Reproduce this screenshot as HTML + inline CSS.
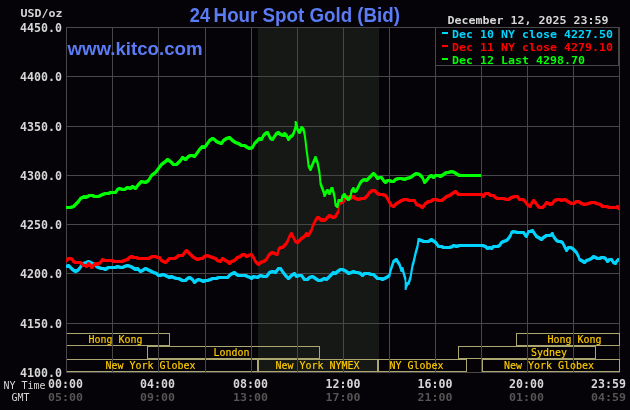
<!DOCTYPE html><html><head><meta charset="utf-8"><title>24 Hour Spot Gold</title><style>
html,body{margin:0;padding:0;background:#050307;}
body{width:630px;height:410px;overflow:hidden;position:relative;}
svg{position:absolute;left:0;top:0;display:block}
.m{font-family:"Liberation Mono",monospace;}
.d{font-family:"DejaVu Sans Mono",monospace;}
.b{font-weight:bold;}
.s{font-family:"Liberation Sans",Arial,sans-serif;font-weight:bold;fill:#5b7cf4}
</style></head><body>
<svg width="630" height="410" viewBox="0 0 630 410">
<rect x="0" y="0" width="630" height="410" fill="#050307"/>
<rect x="258" y="28" width="121" height="344" fill="#161816"/>
<path d="M66.5 27V373 M112.5 27V373 M158.5 27V373 M205.5 27V373 M251.5 27V373 M297.5 27V373 M343.5 27V373 M389.5 27V373 M435.5 27V373 M481.5 27V373 M527.5 27V373 M573.5 27V373 M619.5 27V373 M66 27.5H620 M66 76.5H620 M66 126.5H620 M66 175.5H620 M66 224.5H620 M66 273.5H620 M66 323.5H620 M66 372.5H620" stroke="#474747" stroke-width="1" fill="none" shape-rendering="crispEdges"/>
<path d="M66.5 333.5H169.5V345.5H66.5Z M516.5 333.5H619.5V345.5H516.5Z M147.5 346.5H319.5V358.5H147.5Z M458.5 346.5H595.5V358.5H458.5Z M66.5 359.5H257.5V371.5H66.5Z M258.5 359.5H377.5V371.5H258.5Z M378.5 359.5H466.5V371.5H378.5Z M482.5 359.5H619.5V371.5H482.5Z" stroke="#aca671" stroke-width="1" fill="none" shape-rendering="crispEdges"/>
<path d="M66.5 333V372 M112.5 333V372 M158.5 333V372 M205.5 333V372 M251.5 333V372 M297.5 333V372 M343.5 333V372 M389.5 333V372 M435.5 333V372 M481.5 333V372 M527.5 333V372 M573.5 333V372" stroke="#474747" stroke-width="1" fill="none" shape-rendering="crispEdges"/>
<defs><clipPath id="pc"><rect x="66" y="20" width="553" height="360"/></clipPath><clipPath id="pg"><rect x="66" y="20" width="415" height="360"/></clipPath></defs>
<g clip-path="url(#pc)">
<path d="M65.65 265.00L67.65 264.00L69.35 264.00L69.35 267.00L67.35 268.00L65.65 268.00ZM67.65 264.00L69.35 264.00L71.35 266.00L71.35 269.00L69.65 269.00L67.65 267.00ZM69.65 266.00L71.35 266.00L73.35 268.00L73.35 271.00L71.65 271.00L69.65 269.00ZM71.65 268.00L73.35 268.00L76.35 270.00L76.35 273.00L74.65 273.00L71.65 271.00ZM74.65 270.00L76.65 269.00L78.35 269.00L78.35 272.00L76.35 273.00L74.65 273.00ZM76.65 269.00L78.65 267.00L80.35 267.00L80.35 270.00L78.35 272.00L76.65 272.00ZM78.65 267.00L80.65 264.00L82.35 264.00L82.35 267.00L80.35 270.00L78.65 270.00ZM80.65 264.00L82.65 262.00L84.35 262.00L84.35 265.00L82.35 267.00L80.65 267.00ZM82.65 262.00L85.65 261.00L87.35 261.00L87.35 264.00L84.35 265.00L82.65 265.00ZM85.65 261.00L87.65 260.00L89.35 260.00L89.35 263.00L87.35 264.00L85.65 264.00ZM87.65 260.00L89.35 260.00L91.35 261.00L91.35 264.00L89.65 264.00L87.65 263.00ZM89.65 261.00L91.35 261.00L93.35 262.00L93.35 265.00L91.65 265.00L89.65 264.00ZM91.65 262.00L93.35 262.00L96.35 263.00L96.35 266.00L94.65 266.00L91.65 265.00ZM94.65 263.00L96.35 263.00L97.35 265.00L97.35 268.00L95.65 268.00L94.65 266.00ZM95.65 265.00L97.35 265.00L99.35 266.00L99.35 269.00L97.65 269.00L95.65 268.00ZM97.65 266.00L99.35 266.00L102.35 267.00L102.35 270.00L100.65 270.00L97.65 269.00ZM100.65 267.00L104.35 267.00L104.35 270.00L100.65 270.00ZM102.65 267.00L104.35 267.00L106.35 268.00L106.35 271.00L104.65 271.00L102.65 270.00ZM104.65 268.00L105.65 267.00L107.35 267.00L107.35 270.00L106.35 271.00L104.65 271.00ZM105.65 267.00L107.65 266.00L109.35 266.00L109.35 269.00L107.35 270.00L105.65 270.00ZM107.65 266.00L112.35 266.00L112.35 269.00L107.65 269.00ZM110.65 266.00L114.35 266.00L114.35 269.00L110.65 269.00ZM112.65 266.00L116.35 266.00L116.35 269.00L112.65 269.00ZM114.65 266.00L116.65 265.00L118.35 265.00L118.35 268.00L116.35 269.00L114.65 269.00ZM116.65 265.00L118.35 265.00L121.35 266.00L121.35 269.00L119.65 269.00L116.65 268.00ZM119.65 266.00L123.35 266.00L123.35 269.00L119.65 269.00ZM121.65 266.00L123.65 265.00L125.35 265.00L125.35 268.00L123.35 269.00L121.65 269.00ZM123.65 265.00L126.65 264.00L128.35 264.00L128.35 267.00L125.35 268.00L123.65 268.00ZM126.65 264.00L128.35 264.00L131.35 265.00L131.35 268.00L129.65 268.00L126.65 267.00ZM129.65 265.00L131.35 265.00L133.35 266.00L133.35 269.00L131.65 269.00L129.65 268.00ZM131.65 266.00L133.35 266.00L136.35 268.00L136.35 271.00L134.65 271.00L131.65 269.00ZM134.65 268.00L136.65 267.00L138.35 267.00L138.35 270.00L136.35 271.00L134.65 271.00ZM136.65 267.00L138.35 267.00L141.35 270.00L141.35 273.00L139.65 273.00L136.65 270.00ZM139.65 270.00L141.65 269.00L143.35 269.00L143.35 272.00L141.35 273.00L139.65 273.00ZM141.65 269.00L144.65 267.00L146.35 267.00L146.35 270.00L143.35 272.00L141.65 272.00ZM144.65 267.00L146.35 267.00L148.35 268.00L148.35 271.00L146.65 271.00L144.65 270.00ZM146.65 268.00L148.35 268.00L150.35 269.00L150.35 272.00L148.65 272.00L146.65 271.00ZM148.65 269.00L150.35 269.00L152.35 270.00L152.35 273.00L150.65 273.00L148.65 272.00ZM150.65 270.00L152.35 270.00L154.35 271.00L154.35 274.00L152.65 274.00L150.65 273.00ZM152.65 271.00L154.35 271.00L157.35 272.00L157.35 275.00L155.65 275.00L152.65 274.00ZM155.65 272.00L157.35 272.00L159.35 274.00L159.35 277.00L157.65 277.00L155.65 275.00ZM157.65 274.00L161.35 274.00L161.35 277.00L157.65 277.00ZM159.65 274.00L161.65 273.00L163.35 273.00L163.35 276.00L161.35 277.00L159.65 277.00ZM161.65 273.00L163.35 273.00L166.35 274.00L166.35 277.00L164.65 277.00L161.65 276.00ZM164.65 274.00L166.35 274.00L168.35 275.00L168.35 278.00L166.65 278.00L164.65 277.00ZM166.65 275.00L168.35 275.00L170.35 276.00L170.35 279.00L168.65 279.00L166.65 278.00ZM168.65 276.00L170.65 275.00L172.35 275.00L172.35 278.00L170.35 279.00L168.65 279.00ZM170.65 275.00L172.35 275.00L174.35 276.00L174.35 279.00L172.65 279.00L170.65 278.00ZM172.65 276.00L174.35 276.00L177.35 277.00L177.35 280.00L175.65 280.00L172.65 279.00ZM175.65 277.00L179.35 277.00L179.35 280.00L175.65 280.00ZM177.65 277.00L179.35 277.00L181.35 278.00L181.35 281.00L179.65 281.00L177.65 280.00ZM179.65 278.00L181.35 278.00L183.35 279.00L183.35 282.00L181.65 282.00L179.65 281.00ZM181.65 279.00L186.35 279.00L186.35 282.00L181.65 282.00ZM184.65 279.00L186.65 277.00L188.35 277.00L188.35 280.00L186.35 282.00L184.65 282.00ZM186.65 277.00L188.65 276.00L190.35 276.00L190.35 279.00L188.35 280.00L186.65 280.00ZM188.65 276.00L190.35 276.00L193.35 278.00L193.35 281.00L191.65 281.00L188.65 279.00ZM191.65 278.00L193.35 278.00L195.35 281.00L195.35 284.00L193.65 284.00L191.65 281.00ZM193.65 281.00L195.65 279.00L197.35 279.00L197.35 282.00L195.35 284.00L193.65 284.00ZM195.65 279.00L197.65 278.00L199.35 278.00L199.35 281.00L197.35 282.00L195.65 282.00ZM197.65 278.00L199.35 278.00L202.35 279.00L202.35 282.00L200.65 282.00L197.65 281.00ZM200.65 279.00L202.35 279.00L204.35 280.00L204.35 283.00L202.65 283.00L200.65 282.00ZM202.65 280.00L204.65 279.00L206.35 279.00L206.35 282.00L204.35 283.00L202.65 283.00ZM204.65 279.00L208.35 279.00L208.35 282.00L204.65 282.00ZM206.65 279.00L209.65 278.00L211.35 278.00L211.35 281.00L208.35 282.00L206.65 282.00ZM209.65 278.00L211.65 277.00L213.35 277.00L213.35 280.00L211.35 281.00L209.65 281.00ZM211.65 277.00L215.35 277.00L215.35 280.00L211.65 280.00ZM213.65 277.00L217.35 277.00L217.35 280.00L213.65 280.00ZM215.65 277.00L217.65 276.00L219.35 276.00L219.35 279.00L217.35 280.00L215.65 280.00ZM217.65 276.00L222.35 276.00L222.35 279.00L217.65 279.00ZM220.65 276.00L224.35 276.00L224.35 279.00L220.65 279.00ZM222.65 276.00L226.35 276.00L226.35 279.00L222.65 279.00ZM224.65 276.00L228.35 276.00L228.35 279.00L224.65 279.00ZM226.65 276.00L229.65 273.00L231.35 273.00L231.35 276.00L228.35 279.00L226.65 279.00ZM229.65 273.00L231.65 272.00L233.35 272.00L233.35 275.00L231.35 276.00L229.65 276.00ZM231.65 272.00L233.65 271.00L235.35 271.00L235.35 274.00L233.35 275.00L231.65 275.00ZM233.65 271.00L235.35 271.00L237.35 273.00L237.35 276.00L235.65 276.00L233.65 274.00ZM235.65 273.00L237.35 273.00L239.35 274.00L239.35 277.00L237.65 277.00L235.65 276.00ZM237.65 274.00L242.35 274.00L242.35 277.00L237.65 277.00ZM240.65 274.00L244.35 274.00L244.35 277.00L240.65 277.00ZM242.65 274.00L246.35 274.00L246.35 277.00L242.65 277.00ZM244.65 274.00L246.35 274.00L248.35 275.00L248.35 278.00L246.65 278.00L244.65 277.00ZM246.65 275.00L248.35 275.00L251.35 276.00L251.35 279.00L249.65 279.00L246.65 278.00ZM249.65 276.00L251.35 276.00L252.35 277.00L252.35 280.00L250.65 280.00L249.65 279.00ZM250.65 277.00L252.65 275.00L254.35 275.00L254.35 278.00L252.35 280.00L250.65 280.00ZM252.65 275.00L254.35 275.00L258.35 276.00L258.35 279.00L256.65 279.00L252.65 278.00ZM256.65 276.00L259.65 274.00L261.35 274.00L261.35 277.00L258.35 279.00L256.65 279.00ZM259.65 274.00L261.35 274.00L264.35 275.00L264.35 278.00L262.65 278.00L259.65 277.00ZM262.65 275.00L267.35 275.00L267.35 278.00L262.65 278.00ZM265.65 275.00L268.65 271.00L270.35 271.00L270.35 274.00L267.35 278.00L265.65 278.00ZM268.65 271.00L271.65 270.00L273.35 270.00L273.35 273.00L270.35 274.00L268.65 274.00ZM271.65 270.00L273.35 270.00L276.35 271.00L276.35 274.00L274.65 274.00L271.65 273.00ZM274.65 271.00L277.65 267.00L279.35 267.00L279.35 270.00L276.35 274.00L274.65 274.00ZM277.65 267.00L281.35 267.00L281.35 270.00L277.65 270.00ZM279.65 267.00L281.35 267.00L283.35 270.00L283.35 273.00L281.65 273.00L279.65 270.00ZM281.65 270.00L283.35 270.00L286.35 274.00L286.35 277.00L284.65 277.00L281.65 273.00ZM284.65 274.00L286.35 274.00L289.35 277.00L289.35 280.00L287.65 280.00L284.65 277.00ZM287.65 277.00L290.65 274.00L292.35 274.00L292.35 277.00L289.35 280.00L287.65 280.00ZM290.65 274.00L293.65 272.00L295.35 272.00L295.35 275.00L292.35 277.00L290.65 277.00ZM293.65 272.00L295.35 272.00L297.35 275.00L297.35 278.00L295.65 278.00L293.65 275.00ZM295.65 275.00L297.65 274.00L299.35 274.00L299.35 277.00L297.35 278.00L295.65 278.00ZM297.65 274.00L302.35 274.00L302.35 277.00L297.65 277.00ZM300.65 274.00L302.35 274.00L305.35 278.00L305.35 281.00L303.65 281.00L300.65 277.00ZM303.65 278.00L308.35 278.00L308.35 281.00L303.65 281.00ZM306.65 278.00L308.65 276.00L310.35 276.00L310.35 279.00L308.35 281.00L306.65 281.00ZM308.65 276.00L311.65 275.00L313.35 275.00L313.35 278.00L310.35 279.00L308.65 279.00ZM311.65 275.00L313.35 275.00L316.35 277.00L316.35 280.00L314.65 280.00L311.65 278.00ZM314.65 277.00L316.35 277.00L319.35 279.00L319.35 282.00L317.65 282.00L314.65 280.00ZM317.65 279.00L321.35 279.00L321.35 282.00L317.65 282.00ZM319.65 279.00L321.65 278.00L323.35 278.00L323.35 281.00L321.35 282.00L319.65 282.00ZM321.65 278.00L323.65 277.00L325.35 277.00L325.35 280.00L323.35 281.00L321.65 281.00ZM323.65 277.00L325.35 277.00L327.35 278.00L327.35 281.00L325.65 281.00L323.65 280.00ZM325.65 278.00L327.65 276.00L329.35 276.00L329.35 279.00L327.35 281.00L325.65 281.00ZM327.65 276.00L330.65 273.00L332.35 273.00L332.35 276.00L329.35 279.00L327.65 279.00ZM330.65 273.00L332.65 271.00L334.35 271.00L334.35 274.00L332.35 276.00L330.65 276.00ZM332.65 271.00L334.35 271.00L336.35 272.00L336.35 275.00L334.65 275.00L332.65 274.00ZM334.65 272.00L336.65 270.00L338.35 270.00L338.35 273.00L336.35 275.00L334.65 275.00ZM336.65 270.00L339.65 268.00L341.35 268.00L341.35 271.00L338.35 273.00L336.65 273.00ZM339.65 268.00L343.35 268.00L343.35 271.00L339.65 271.00ZM341.65 268.00L343.35 268.00L345.35 269.00L345.35 272.00L343.65 272.00L341.65 271.00ZM343.65 269.00L345.35 269.00L347.35 270.00L347.35 273.00L345.65 273.00L343.65 272.00ZM345.65 270.00L347.35 270.00L349.35 272.00L349.35 275.00L347.65 275.00L345.65 273.00ZM347.65 272.00L350.65 271.00L352.35 271.00L352.35 274.00L349.35 275.00L347.65 275.00ZM350.65 271.00L352.65 270.00L354.35 270.00L354.35 273.00L352.35 274.00L350.65 274.00ZM352.65 270.00L354.35 270.00L356.35 271.00L356.35 274.00L354.65 274.00L352.65 273.00ZM354.65 271.00L358.35 271.00L358.35 274.00L354.65 274.00ZM356.65 271.00L358.35 271.00L361.35 272.00L361.35 275.00L359.65 275.00L356.65 274.00ZM359.65 272.00L361.35 272.00L363.35 274.00L363.35 277.00L361.65 277.00L359.65 275.00ZM361.65 274.00L363.65 272.00L365.35 272.00L365.35 275.00L363.35 277.00L361.65 277.00ZM363.65 272.00L367.35 272.00L367.35 275.00L363.65 275.00ZM365.65 272.00L369.35 272.00L369.35 275.00L365.65 275.00ZM367.65 272.00L369.35 272.00L372.35 273.00L372.35 276.00L370.65 276.00L367.65 275.00ZM370.65 273.00L374.35 273.00L374.35 276.00L370.65 276.00ZM372.65 273.00L374.35 273.00L376.35 275.00L376.35 278.00L374.65 278.00L372.65 276.00ZM374.65 275.00L376.35 275.00L378.35 277.00L378.35 280.00L376.65 280.00L374.65 278.00ZM376.65 277.00L381.35 277.00L381.35 280.00L376.65 280.00ZM379.65 277.00L381.35 277.00L383.35 278.00L383.35 281.00L381.65 281.00L379.65 280.00ZM381.65 278.00L383.65 277.00L385.35 277.00L385.35 280.00L383.35 281.00L381.65 281.00ZM383.65 277.00L385.65 276.00L387.35 276.00L387.35 279.00L385.35 280.00L383.65 280.00ZM385.65 276.00L388.65 274.00L390.35 274.00L390.35 277.00L387.35 279.00L385.65 279.00ZM388.65 274.00L389.65 269.00L391.35 269.00L391.35 272.00L390.35 277.00L388.65 277.00ZM389.65 269.00L391.65 263.00L393.35 263.00L393.35 266.00L391.35 272.00L389.65 272.00ZM391.65 263.00L392.65 260.00L394.35 260.00L394.35 263.00L393.35 266.00L391.65 266.00ZM392.65 260.00L395.65 258.00L397.35 258.00L397.35 261.00L394.35 263.00L392.65 263.00ZM395.65 258.00L397.35 258.00L398.35 260.00L398.35 263.00L396.65 263.00L395.65 261.00ZM396.65 260.00L398.35 260.00L400.35 263.00L400.35 266.00L398.65 266.00L396.65 263.00ZM398.65 263.00L400.35 263.00L402.35 269.00L402.35 272.00L400.65 272.00L398.65 266.00ZM400.65 269.00L401.65 267.00L403.35 267.00L403.35 270.00L402.35 272.00L400.65 272.00ZM401.65 267.00L403.35 267.00L404.35 271.00L404.35 274.00L402.65 274.00L401.65 270.00ZM402.65 271.00L404.35 271.00L406.35 278.00L406.35 281.00L404.65 281.00L402.65 274.00ZM404.65 278.00L406.35 278.00L406.35 290.00L404.65 290.00ZM404.65 287.00L405.65 284.00L407.35 284.00L407.35 287.00L406.35 290.00L404.65 290.00ZM405.65 284.00L406.65 282.00L408.35 282.00L408.35 285.00L407.35 287.00L405.65 287.00ZM406.65 282.00L409.35 282.00L409.35 285.00L406.65 285.00ZM407.65 282.00L409.65 276.00L411.35 276.00L411.35 279.00L409.35 285.00L407.65 285.00ZM409.65 276.00L411.65 264.00L413.35 264.00L413.35 267.00L411.35 279.00L409.65 279.00ZM411.65 264.00L412.65 261.00L414.35 261.00L414.35 264.00L413.35 267.00L411.65 267.00ZM412.65 261.00L414.65 252.00L416.35 252.00L416.35 255.00L414.35 264.00L412.65 264.00ZM414.65 252.00L416.65 245.00L418.35 245.00L418.35 248.00L416.35 255.00L414.65 255.00ZM416.65 245.00L417.65 238.00L419.35 238.00L419.35 241.00L418.35 248.00L416.65 248.00ZM417.65 238.00L419.35 238.00L422.35 239.00L422.35 242.00L420.65 242.00L417.65 241.00ZM420.65 239.00L422.35 239.00L424.35 240.00L424.35 243.00L422.65 243.00L420.65 242.00ZM422.65 240.00L427.35 240.00L427.35 243.00L422.65 243.00ZM425.65 240.00L429.35 240.00L429.35 243.00L425.65 243.00ZM427.65 240.00L430.65 238.00L432.35 238.00L432.35 241.00L429.35 243.00L427.65 243.00ZM430.65 238.00L432.35 238.00L433.35 239.00L433.35 242.00L431.65 242.00L430.65 241.00ZM431.65 239.00L433.35 239.00L435.35 240.00L435.35 243.00L433.65 243.00L431.65 242.00ZM433.65 240.00L435.35 240.00L437.35 242.00L437.35 245.00L435.65 245.00L433.65 243.00ZM435.65 242.00L437.35 242.00L439.35 245.00L439.35 248.00L437.65 248.00L435.65 245.00ZM437.65 245.00L442.35 245.00L442.35 248.00L437.65 248.00ZM440.65 245.00L442.35 245.00L444.35 246.00L444.35 249.00L442.65 249.00L440.65 248.00ZM442.65 246.00L447.35 246.00L447.35 249.00L442.65 249.00ZM445.65 246.00L450.35 246.00L450.35 249.00L445.65 249.00ZM448.65 246.00L451.65 245.00L453.35 245.00L453.35 248.00L450.35 249.00L448.65 249.00ZM451.65 245.00L452.65 244.00L454.35 244.00L454.35 247.00L453.35 248.00L451.65 248.00ZM452.65 244.00L454.35 244.00L457.35 245.00L457.35 248.00L455.65 248.00L452.65 247.00ZM455.65 245.00L458.65 244.00L460.35 244.00L460.35 247.00L457.35 248.00L455.65 248.00ZM458.65 244.00L483.35 244.00L483.35 247.00L458.65 247.00ZM481.65 244.00L483.35 244.00L486.35 245.00L486.35 248.00L484.65 248.00L481.65 247.00ZM484.65 245.00L486.35 245.00L488.35 247.00L488.35 250.00L486.65 250.00L484.65 248.00ZM486.65 247.00L488.65 246.00L490.35 246.00L490.35 249.00L488.35 250.00L486.65 250.00ZM488.65 246.00L490.35 246.00L492.35 247.00L492.35 250.00L490.65 250.00L488.65 249.00ZM490.65 247.00L492.65 245.00L494.35 245.00L494.35 248.00L492.35 250.00L490.65 250.00ZM492.65 245.00L498.35 245.00L498.35 248.00L492.65 248.00ZM496.65 245.00L498.65 244.00L500.35 244.00L500.35 247.00L498.35 248.00L496.65 248.00ZM498.65 244.00L500.65 241.00L502.35 241.00L502.35 244.00L500.35 247.00L498.65 247.00ZM500.65 241.00L502.65 240.00L504.35 240.00L504.35 243.00L502.35 244.00L500.65 244.00ZM502.65 240.00L505.65 239.00L507.35 239.00L507.35 242.00L504.35 243.00L502.65 243.00ZM505.65 239.00L507.65 237.00L509.35 237.00L509.35 240.00L507.35 242.00L505.65 242.00ZM507.65 237.00L509.65 234.00L511.35 234.00L511.35 237.00L509.35 240.00L507.65 240.00ZM509.65 234.00L510.65 231.00L512.35 231.00L512.35 234.00L511.35 237.00L509.65 237.00ZM510.65 231.00L512.65 230.00L514.35 230.00L514.35 233.00L512.35 234.00L510.65 234.00ZM512.65 230.00L514.35 230.00L518.35 231.00L518.35 234.00L516.65 234.00L512.65 233.00ZM516.65 231.00L521.35 231.00L521.35 234.00L516.65 234.00ZM519.65 231.00L524.35 231.00L524.35 234.00L519.65 234.00ZM522.65 231.00L524.35 231.00L526.35 234.00L526.35 237.00L524.65 237.00L522.65 234.00ZM524.65 234.00L526.35 234.00L527.35 235.00L527.35 238.00L525.65 238.00L524.65 237.00ZM525.65 235.00L527.65 230.00L529.35 230.00L529.35 233.00L527.35 238.00L525.65 238.00ZM527.65 230.00L531.35 230.00L531.35 233.00L527.65 233.00ZM529.65 230.00L531.65 229.00L533.35 229.00L533.35 232.00L531.35 233.00L529.65 233.00ZM531.65 229.00L533.35 229.00L535.35 232.00L535.35 235.00L533.65 235.00L531.65 232.00ZM533.65 232.00L535.35 232.00L537.35 235.00L537.35 238.00L535.65 238.00L533.65 235.00ZM535.65 235.00L537.35 235.00L539.35 236.00L539.35 239.00L537.65 239.00L535.65 238.00ZM537.65 236.00L539.35 236.00L542.35 238.00L542.35 241.00L540.65 241.00L537.65 239.00ZM540.65 238.00L542.65 236.00L544.35 236.00L544.35 239.00L542.35 241.00L540.65 241.00ZM542.65 236.00L545.65 234.00L547.35 234.00L547.35 237.00L544.35 239.00L542.65 239.00ZM545.65 234.00L549.35 234.00L549.35 237.00L545.65 237.00ZM547.65 234.00L551.35 234.00L551.35 237.00L547.65 237.00ZM549.65 234.00L551.65 232.00L553.35 232.00L553.35 235.00L551.35 237.00L549.65 237.00ZM551.65 232.00L553.35 232.00L554.35 235.00L554.35 238.00L552.65 238.00L551.65 235.00ZM552.65 235.00L554.35 235.00L557.35 239.00L557.35 242.00L555.65 242.00L552.65 238.00ZM555.65 239.00L557.35 239.00L559.35 240.00L559.35 243.00L557.65 243.00L555.65 242.00ZM557.65 240.00L561.35 240.00L561.35 243.00L557.65 243.00ZM559.65 240.00L561.35 240.00L563.35 241.00L563.35 244.00L561.65 244.00L559.65 243.00ZM561.65 241.00L563.35 241.00L565.35 245.00L565.35 248.00L563.65 248.00L561.65 244.00ZM563.65 245.00L565.35 245.00L567.35 249.00L567.35 252.00L565.65 252.00L563.65 248.00ZM565.65 249.00L567.65 246.00L569.35 246.00L569.35 249.00L567.35 252.00L565.65 252.00ZM567.65 246.00L571.35 246.00L571.35 249.00L567.65 249.00ZM569.65 246.00L571.35 246.00L573.35 247.00L573.35 250.00L571.65 250.00L569.65 249.00ZM571.65 247.00L573.35 247.00L575.35 249.00L575.35 252.00L573.65 252.00L571.65 250.00ZM573.65 249.00L575.35 249.00L577.35 251.00L577.35 254.00L575.65 254.00L573.65 252.00ZM575.65 251.00L577.35 251.00L579.35 255.00L579.35 258.00L577.65 258.00L575.65 254.00ZM577.65 255.00L579.35 255.00L580.35 258.00L580.35 261.00L578.65 261.00L577.65 258.00ZM578.65 258.00L580.35 258.00L582.35 259.00L582.35 262.00L580.65 262.00L578.65 261.00ZM580.65 259.00L582.35 259.00L585.35 261.00L585.35 264.00L583.65 264.00L580.65 262.00ZM583.65 261.00L585.65 259.00L587.35 259.00L587.35 262.00L585.35 264.00L583.65 264.00ZM585.65 259.00L588.65 258.00L590.35 258.00L590.35 261.00L587.35 262.00L585.65 262.00ZM588.65 258.00L590.65 257.00L592.35 257.00L592.35 260.00L590.35 261.00L588.65 261.00ZM590.65 257.00L592.65 255.00L594.35 255.00L594.35 258.00L592.35 260.00L590.65 260.00ZM592.65 255.00L594.35 255.00L596.35 256.00L596.35 259.00L594.65 259.00L592.65 258.00ZM594.65 256.00L596.35 256.00L598.35 257.00L598.35 260.00L596.65 260.00L594.65 259.00ZM596.65 257.00L600.35 257.00L600.35 260.00L596.65 260.00ZM598.65 257.00L600.65 256.00L602.35 256.00L602.35 259.00L600.35 260.00L598.65 260.00ZM600.65 256.00L604.35 256.00L604.35 259.00L600.65 259.00ZM602.65 256.00L604.35 256.00L606.35 257.00L606.35 260.00L604.65 260.00L602.65 259.00ZM604.65 257.00L606.35 257.00L608.35 260.00L608.35 263.00L606.65 263.00L604.65 260.00ZM606.65 260.00L608.65 258.00L610.35 258.00L610.35 261.00L608.35 263.00L606.65 263.00ZM608.65 258.00L612.35 258.00L612.35 261.00L608.65 261.00ZM610.65 258.00L612.35 258.00L614.35 261.00L614.35 264.00L612.65 264.00L610.65 261.00ZM612.65 261.00L614.35 261.00L616.35 262.00L616.35 265.00L614.65 265.00L612.65 264.00ZM614.65 262.00L615.65 260.00L617.35 260.00L617.35 263.00L616.35 265.00L614.65 265.00ZM615.65 260.00L617.65 258.00L619.35 258.00L619.35 261.00L617.35 263.00L615.65 263.00Z" fill="#00d4ff" fill-rule="nonzero"/>
<path d="M65.65 259.00L66.65 258.00L68.35 258.00L68.35 261.00L67.35 262.00L65.65 262.00ZM66.65 258.00L67.65 257.00L69.35 257.00L69.35 260.00L68.35 261.00L66.65 261.00ZM67.65 257.00L71.35 257.00L71.35 260.00L67.65 260.00ZM69.65 257.00L71.35 257.00L73.35 258.00L73.35 261.00L71.65 261.00L69.65 260.00ZM71.65 258.00L73.35 258.00L74.35 260.00L74.35 263.00L72.65 263.00L71.65 261.00ZM72.65 260.00L74.35 260.00L76.35 261.00L76.35 264.00L74.65 264.00L72.65 263.00ZM74.65 261.00L78.35 261.00L78.35 264.00L74.65 264.00ZM76.65 261.00L81.35 261.00L81.35 264.00L76.65 264.00ZM79.65 261.00L81.35 261.00L82.35 262.00L82.35 265.00L80.65 265.00L79.65 264.00ZM80.65 262.00L82.35 262.00L84.35 264.00L84.35 267.00L82.65 267.00L80.65 265.00ZM82.65 264.00L86.35 264.00L86.35 267.00L82.65 267.00ZM84.65 264.00L86.35 264.00L87.35 265.00L87.35 268.00L85.65 268.00L84.65 267.00ZM85.65 265.00L87.65 262.00L89.35 262.00L89.35 265.00L87.35 268.00L85.65 268.00ZM87.65 262.00L89.35 262.00L91.35 264.00L91.35 267.00L89.65 267.00L87.65 265.00ZM89.65 264.00L91.35 264.00L92.35 266.00L92.35 269.00L90.65 269.00L89.65 267.00ZM90.65 266.00L92.65 264.00L94.35 264.00L94.35 267.00L92.35 269.00L90.65 269.00ZM92.65 264.00L94.65 262.00L96.35 262.00L96.35 265.00L94.35 267.00L92.65 267.00ZM94.65 262.00L96.35 262.00L98.35 263.00L98.35 266.00L96.65 266.00L94.65 265.00ZM96.65 263.00L99.65 261.00L101.35 261.00L101.35 264.00L98.35 266.00L96.65 266.00ZM99.65 261.00L101.65 258.00L103.35 258.00L103.35 261.00L101.35 264.00L99.65 264.00ZM101.65 258.00L103.35 258.00L105.35 259.00L105.35 262.00L103.65 262.00L101.65 261.00ZM103.65 259.00L108.35 259.00L108.35 262.00L103.65 262.00ZM106.65 259.00L112.35 259.00L112.35 262.00L106.65 262.00ZM110.65 259.00L112.35 259.00L115.35 260.00L115.35 263.00L113.65 263.00L110.65 262.00ZM113.65 260.00L118.35 260.00L118.35 263.00L113.65 263.00ZM116.65 260.00L122.35 260.00L122.35 263.00L116.65 263.00ZM120.65 260.00L123.65 259.00L125.35 259.00L125.35 262.00L122.35 263.00L120.65 263.00ZM123.65 259.00L126.65 258.00L128.35 258.00L128.35 261.00L125.35 262.00L123.65 262.00ZM126.65 258.00L128.65 256.00L130.35 256.00L130.35 259.00L128.35 261.00L126.65 261.00ZM128.65 256.00L130.65 255.00L132.35 255.00L132.35 258.00L130.35 259.00L128.65 259.00ZM130.65 255.00L132.35 255.00L134.35 256.00L134.35 259.00L132.65 259.00L130.65 258.00ZM132.65 256.00L137.35 256.00L137.35 259.00L132.65 259.00ZM135.65 256.00L137.35 256.00L139.35 257.00L139.35 260.00L137.65 260.00L135.65 259.00ZM137.65 257.00L141.35 257.00L141.35 260.00L137.65 260.00ZM139.65 257.00L144.35 257.00L144.35 260.00L139.65 260.00ZM142.65 257.00L147.35 257.00L147.35 260.00L142.65 260.00ZM145.65 257.00L149.35 257.00L149.35 260.00L145.65 260.00ZM147.65 257.00L149.65 256.00L151.35 256.00L151.35 259.00L149.35 260.00L147.65 260.00ZM149.65 256.00L151.65 255.00L153.35 255.00L153.35 258.00L151.35 259.00L149.65 259.00ZM151.65 255.00L156.35 255.00L156.35 258.00L151.65 258.00ZM154.65 255.00L156.35 255.00L158.35 256.00L158.35 259.00L156.65 259.00L154.65 258.00ZM156.65 256.00L160.35 256.00L160.35 259.00L156.65 259.00ZM158.65 256.00L160.35 256.00L162.35 259.00L162.35 262.00L160.65 262.00L158.65 259.00ZM160.65 259.00L162.35 259.00L164.35 260.00L164.35 263.00L162.65 263.00L160.65 262.00ZM162.65 260.00L164.35 260.00L166.35 261.00L166.35 264.00L164.65 264.00L162.65 263.00ZM164.65 261.00L166.65 259.00L168.35 259.00L168.35 262.00L166.35 264.00L164.65 264.00ZM166.65 259.00L168.65 257.00L170.35 257.00L170.35 260.00L168.35 262.00L166.65 262.00ZM168.65 257.00L172.35 257.00L172.35 260.00L168.65 260.00ZM170.65 257.00L175.35 257.00L175.35 260.00L170.65 260.00ZM173.65 257.00L175.65 256.00L177.35 256.00L177.35 259.00L175.35 260.00L173.65 260.00ZM175.65 256.00L177.65 254.00L179.35 254.00L179.35 257.00L177.35 259.00L175.65 259.00ZM177.65 254.00L181.35 254.00L181.35 257.00L177.65 257.00ZM179.65 254.00L183.35 254.00L183.35 257.00L179.65 257.00ZM181.65 254.00L184.65 250.00L186.35 250.00L186.35 253.00L183.35 257.00L181.65 257.00ZM184.65 250.00L185.65 249.00L187.35 249.00L187.35 252.00L186.35 253.00L184.65 253.00ZM185.65 249.00L187.35 249.00L189.35 251.00L189.35 254.00L187.65 254.00L185.65 252.00ZM187.65 251.00L189.35 251.00L191.35 253.00L191.35 256.00L189.65 256.00L187.65 254.00ZM189.65 253.00L191.35 253.00L193.35 255.00L193.35 258.00L191.65 258.00L189.65 256.00ZM191.65 255.00L193.35 255.00L196.35 257.00L196.35 260.00L194.65 260.00L191.65 258.00ZM194.65 257.00L196.35 257.00L198.35 258.00L198.35 261.00L196.65 261.00L194.65 260.00ZM196.65 258.00L199.65 257.00L201.35 257.00L201.35 260.00L198.35 261.00L196.65 261.00ZM199.65 257.00L203.35 257.00L203.35 260.00L199.65 260.00ZM201.65 257.00L203.65 255.00L205.35 255.00L205.35 258.00L203.35 260.00L201.65 260.00ZM203.65 255.00L206.65 254.00L208.35 254.00L208.35 257.00L205.35 258.00L203.65 258.00ZM206.65 254.00L208.35 254.00L210.35 255.00L210.35 258.00L208.65 258.00L206.65 257.00ZM208.65 255.00L210.35 255.00L213.35 256.00L213.35 259.00L211.65 259.00L208.65 258.00ZM211.65 256.00L213.35 256.00L216.35 257.00L216.35 260.00L214.65 260.00L211.65 259.00ZM214.65 257.00L216.35 257.00L218.35 259.00L218.35 262.00L216.65 262.00L214.65 260.00ZM216.65 259.00L218.35 259.00L221.35 260.00L221.35 263.00L219.65 263.00L216.65 262.00ZM219.65 260.00L221.65 257.00L223.35 257.00L223.35 260.00L221.35 263.00L219.65 263.00ZM221.65 257.00L223.35 257.00L226.35 259.00L226.35 262.00L224.65 262.00L221.65 260.00ZM224.65 259.00L226.35 259.00L228.35 260.00L228.35 263.00L226.65 263.00L224.65 262.00ZM226.65 260.00L228.35 260.00L230.35 262.00L230.35 265.00L228.65 265.00L226.65 263.00ZM228.65 262.00L230.65 260.00L232.35 260.00L232.35 263.00L230.35 265.00L228.65 265.00ZM230.65 260.00L233.65 259.00L235.35 259.00L235.35 262.00L232.35 263.00L230.65 263.00ZM233.65 259.00L236.65 256.00L238.35 256.00L238.35 259.00L235.35 262.00L233.65 262.00ZM236.65 256.00L239.65 255.00L241.35 255.00L241.35 258.00L238.35 259.00L236.65 259.00ZM239.65 255.00L241.65 253.00L243.35 253.00L243.35 256.00L241.35 258.00L239.65 258.00ZM241.65 253.00L245.35 253.00L245.35 256.00L241.65 256.00ZM243.65 253.00L245.35 253.00L247.35 255.00L247.35 258.00L245.65 258.00L243.65 256.00ZM245.65 255.00L247.65 254.00L249.35 254.00L249.35 257.00L247.35 258.00L245.65 258.00ZM247.65 254.00L250.65 253.00L252.35 253.00L252.35 256.00L249.35 257.00L247.65 257.00ZM250.65 253.00L252.35 253.00L254.35 256.00L254.35 259.00L252.65 259.00L250.65 256.00ZM252.65 256.00L254.35 256.00L256.35 260.00L256.35 263.00L254.65 263.00L252.65 259.00ZM254.65 260.00L256.35 260.00L258.35 262.00L258.35 265.00L256.65 265.00L254.65 263.00ZM256.65 262.00L258.35 262.00L259.35 263.00L259.35 266.00L257.65 266.00L256.65 265.00ZM257.65 263.00L259.65 261.00L261.35 261.00L261.35 264.00L259.35 266.00L257.65 266.00ZM259.65 261.00L262.65 260.00L264.35 260.00L264.35 263.00L261.35 264.00L259.65 264.00ZM262.65 260.00L265.65 258.00L267.35 258.00L267.35 261.00L264.35 263.00L262.65 263.00ZM265.65 258.00L267.65 254.00L269.35 254.00L269.35 257.00L267.35 261.00L265.65 261.00ZM267.65 254.00L269.65 252.00L271.35 252.00L271.35 255.00L269.35 257.00L267.65 257.00ZM269.65 252.00L271.65 251.00L273.35 251.00L273.35 254.00L271.35 255.00L269.65 255.00ZM271.65 251.00L273.35 251.00L275.35 252.00L275.35 255.00L273.65 255.00L271.65 254.00ZM273.65 252.00L275.35 252.00L278.35 253.00L278.35 256.00L276.65 256.00L273.65 255.00ZM276.65 253.00L277.65 248.00L279.35 248.00L279.35 251.00L278.35 256.00L276.65 256.00ZM277.65 248.00L279.65 246.00L281.35 246.00L281.35 249.00L279.35 251.00L277.65 251.00ZM279.65 246.00L283.35 246.00L283.35 249.00L279.65 249.00ZM281.65 246.00L284.65 243.00L286.35 243.00L286.35 246.00L283.35 249.00L281.65 249.00ZM284.65 243.00L286.65 240.00L288.35 240.00L288.35 243.00L286.35 246.00L284.65 246.00ZM286.65 240.00L288.65 235.00L290.35 235.00L290.35 238.00L288.35 243.00L286.65 243.00ZM288.65 235.00L290.65 232.00L292.35 232.00L292.35 235.00L290.35 238.00L288.65 238.00ZM290.65 232.00L292.35 232.00L294.35 236.00L294.35 239.00L292.65 239.00L290.65 235.00ZM292.65 236.00L294.35 236.00L296.35 240.00L296.35 243.00L294.65 243.00L292.65 239.00ZM294.65 240.00L296.35 240.00L298.35 241.00L298.35 244.00L296.65 244.00L294.65 243.00ZM296.65 241.00L298.65 239.00L300.35 239.00L300.35 242.00L298.35 244.00L296.65 244.00ZM298.65 239.00L300.65 237.00L302.35 237.00L302.35 240.00L300.35 242.00L298.65 242.00ZM300.65 237.00L303.65 235.00L305.35 235.00L305.35 238.00L302.35 240.00L300.65 240.00ZM303.65 235.00L305.65 232.00L307.35 232.00L307.35 235.00L305.35 238.00L303.65 238.00ZM305.65 232.00L307.35 232.00L309.35 234.00L309.35 237.00L307.65 237.00L305.65 235.00ZM307.65 234.00L309.65 230.00L311.35 230.00L311.35 233.00L309.35 237.00L307.65 237.00ZM309.65 230.00L310.65 229.00L312.35 229.00L312.35 232.00L311.35 233.00L309.65 233.00ZM310.65 229.00L311.65 225.00L313.35 225.00L313.35 228.00L312.35 232.00L310.65 232.00ZM311.65 225.00L313.65 221.00L315.35 221.00L315.35 224.00L313.35 228.00L311.65 228.00ZM313.65 221.00L314.65 219.00L316.35 219.00L316.35 222.00L315.35 224.00L313.65 224.00ZM314.65 219.00L316.65 216.00L318.35 216.00L318.35 219.00L316.35 222.00L314.65 222.00ZM316.65 216.00L319.35 216.00L319.35 219.00L316.65 219.00ZM317.65 216.00L319.35 216.00L320.35 217.00L320.35 220.00L318.65 220.00L317.65 219.00ZM318.65 217.00L320.35 217.00L322.35 219.00L322.35 222.00L320.65 222.00L318.65 220.00ZM320.65 219.00L321.65 218.00L323.35 218.00L323.35 221.00L322.35 222.00L320.65 222.00ZM321.65 218.00L323.35 218.00L325.35 219.00L325.35 222.00L323.65 222.00L321.65 221.00ZM323.65 219.00L325.65 217.00L327.35 217.00L327.35 220.00L325.35 222.00L323.65 222.00ZM325.65 217.00L327.65 215.00L329.35 215.00L329.35 218.00L327.35 220.00L325.65 220.00ZM327.65 215.00L328.65 214.00L330.35 214.00L330.35 217.00L329.35 218.00L327.65 218.00ZM328.65 214.00L330.35 214.00L332.35 215.00L332.35 218.00L330.65 218.00L328.65 217.00ZM330.65 215.00L332.35 215.00L333.35 216.00L333.35 219.00L331.65 219.00L330.65 218.00ZM331.65 216.00L334.35 216.00L334.35 219.00L331.65 219.00ZM332.65 216.00L334.65 215.00L336.35 215.00L336.35 218.00L334.35 219.00L332.65 219.00ZM334.65 215.00L335.65 213.00L337.35 213.00L337.35 216.00L336.35 218.00L334.65 218.00ZM335.65 213.00L337.65 210.00L339.35 210.00L339.35 213.00L337.35 216.00L335.65 216.00ZM337.65 205.00L339.35 205.00L339.35 213.00L337.65 213.00ZM337.65 205.00L338.65 202.00L340.35 202.00L340.35 205.00L339.35 208.00L337.65 208.00ZM338.65 202.00L340.65 201.00L342.35 201.00L342.35 204.00L340.35 205.00L338.65 205.00ZM340.65 201.00L342.65 200.00L344.35 200.00L344.35 203.00L342.35 204.00L340.65 204.00ZM342.65 200.00L343.65 198.00L345.35 198.00L345.35 201.00L344.35 203.00L342.65 203.00ZM343.65 198.00L346.65 195.00L348.35 195.00L348.35 198.00L345.35 201.00L343.65 201.00ZM346.65 195.00L348.35 195.00L351.35 197.00L351.35 200.00L349.65 200.00L346.65 198.00ZM349.65 197.00L352.65 195.00L354.35 195.00L354.35 198.00L351.35 200.00L349.65 200.00ZM352.65 195.00L354.35 195.00L356.35 197.00L356.35 200.00L354.65 200.00L352.65 198.00ZM354.65 197.00L356.35 197.00L359.35 198.00L359.35 201.00L357.65 201.00L354.65 200.00ZM357.65 198.00L360.65 197.00L362.35 197.00L362.35 200.00L359.35 201.00L357.65 201.00ZM360.65 197.00L365.35 197.00L365.35 200.00L360.65 200.00ZM363.65 197.00L366.65 194.00L368.35 194.00L368.35 197.00L365.35 200.00L363.65 200.00ZM366.65 194.00L368.65 191.00L370.35 191.00L370.35 194.00L368.35 197.00L366.65 197.00ZM368.65 191.00L371.65 189.00L373.35 189.00L373.35 192.00L370.35 194.00L368.65 194.00ZM371.65 189.00L375.35 189.00L375.35 192.00L371.65 192.00ZM373.65 189.00L375.35 189.00L378.35 192.00L378.35 195.00L376.65 195.00L373.65 192.00ZM376.65 192.00L378.35 192.00L380.35 193.00L380.35 196.00L378.65 196.00L376.65 195.00ZM378.65 193.00L383.35 193.00L383.35 196.00L378.65 196.00ZM381.65 193.00L383.35 193.00L386.35 194.00L386.35 197.00L384.65 197.00L381.65 196.00ZM384.65 194.00L386.35 194.00L388.35 197.00L388.35 200.00L386.65 200.00L384.65 197.00ZM386.65 197.00L388.35 197.00L390.35 201.00L390.35 204.00L388.65 204.00L386.65 200.00ZM388.65 201.00L390.35 201.00L392.35 204.00L392.35 207.00L390.65 207.00L388.65 204.00ZM390.65 204.00L392.35 204.00L394.35 205.00L394.35 208.00L392.65 208.00L390.65 207.00ZM392.65 205.00L395.65 202.00L397.35 202.00L397.35 205.00L394.35 208.00L392.65 208.00ZM395.65 202.00L397.65 201.00L399.35 201.00L399.35 204.00L397.35 205.00L395.65 205.00ZM397.65 201.00L400.65 199.00L402.35 199.00L402.35 202.00L399.35 204.00L397.65 204.00ZM400.65 199.00L403.65 198.00L405.35 198.00L405.35 201.00L402.35 202.00L400.65 202.00ZM403.65 198.00L407.35 198.00L407.35 201.00L403.65 201.00ZM405.65 198.00L407.35 198.00L410.35 199.00L410.35 202.00L408.65 202.00L405.65 201.00ZM408.65 199.00L413.35 199.00L413.35 202.00L408.65 202.00ZM411.65 199.00L415.35 199.00L415.35 202.00L411.65 202.00ZM413.65 199.00L415.35 199.00L417.35 203.00L417.35 206.00L415.65 206.00L413.65 202.00ZM415.65 203.00L417.35 203.00L420.35 204.00L420.35 207.00L418.65 207.00L415.65 206.00ZM418.65 204.00L420.35 204.00L423.35 206.00L423.35 209.00L421.65 209.00L418.65 207.00ZM421.65 206.00L424.65 202.00L426.35 202.00L426.35 205.00L423.35 209.00L421.65 209.00ZM424.65 202.00L427.65 200.00L429.35 200.00L429.35 203.00L426.35 205.00L424.65 205.00ZM427.65 200.00L431.35 200.00L431.35 203.00L427.65 203.00ZM429.65 200.00L432.65 198.00L434.35 198.00L434.35 201.00L431.35 203.00L429.65 203.00ZM432.65 198.00L437.35 198.00L437.35 201.00L432.65 201.00ZM435.65 198.00L437.35 198.00L439.35 199.00L439.35 202.00L437.65 202.00L435.65 201.00ZM437.65 199.00L442.35 199.00L442.35 202.00L437.65 202.00ZM440.65 199.00L443.65 197.00L445.35 197.00L445.35 200.00L442.35 202.00L440.65 202.00ZM443.65 197.00L445.65 195.00L447.35 195.00L447.35 198.00L445.35 200.00L443.65 200.00ZM445.65 195.00L448.65 194.00L450.35 194.00L450.35 197.00L447.35 198.00L445.65 198.00ZM448.65 194.00L451.65 192.00L453.35 192.00L453.35 195.00L450.35 197.00L448.65 197.00ZM451.65 192.00L454.65 190.00L456.35 190.00L456.35 193.00L453.35 195.00L451.65 195.00ZM454.65 190.00L456.35 190.00L459.35 193.00L459.35 196.00L457.65 196.00L454.65 193.00ZM457.65 193.00L464.35 193.00L464.35 196.00L457.65 196.00ZM462.65 193.00L471.35 193.00L471.35 196.00L462.65 196.00ZM469.65 193.00L478.35 193.00L478.35 196.00L469.65 196.00ZM476.65 193.00L482.35 193.00L482.35 196.00L476.65 196.00ZM480.65 193.00L482.35 193.00L484.35 195.00L484.35 198.00L482.65 198.00L480.65 196.00ZM482.65 195.00L484.65 192.00L486.35 192.00L486.35 195.00L484.35 198.00L482.65 198.00ZM484.65 192.00L489.35 192.00L489.35 195.00L484.65 195.00ZM487.65 192.00L489.35 192.00L491.35 194.00L491.35 197.00L489.65 197.00L487.65 195.00ZM489.65 194.00L494.35 194.00L494.35 197.00L489.65 197.00ZM492.65 194.00L494.35 194.00L496.35 196.00L496.35 199.00L494.65 199.00L492.65 197.00ZM494.65 196.00L496.35 196.00L498.35 197.00L498.35 200.00L496.65 200.00L494.65 199.00ZM496.65 197.00L501.35 197.00L501.35 200.00L496.65 200.00ZM499.65 197.00L504.35 197.00L504.35 200.00L499.65 200.00ZM502.65 197.00L504.35 197.00L507.35 198.00L507.35 201.00L505.65 201.00L502.65 200.00ZM505.65 198.00L509.35 198.00L509.35 201.00L505.65 201.00ZM507.65 198.00L510.65 196.00L512.35 196.00L512.35 199.00L509.35 201.00L507.65 201.00ZM510.65 196.00L513.65 195.00L515.35 195.00L515.35 198.00L512.35 199.00L510.65 199.00ZM513.65 195.00L518.35 195.00L518.35 198.00L513.65 198.00ZM516.65 195.00L518.35 195.00L520.35 198.00L520.35 201.00L518.65 201.00L516.65 198.00ZM518.65 198.00L523.35 198.00L523.35 201.00L518.65 201.00ZM521.65 198.00L523.35 198.00L525.35 199.00L525.35 202.00L523.65 202.00L521.65 201.00ZM523.65 199.00L525.35 199.00L527.35 202.00L527.35 205.00L525.65 205.00L523.65 202.00ZM525.65 202.00L527.35 202.00L529.35 204.00L529.35 207.00L527.65 207.00L525.65 205.00ZM527.65 204.00L529.35 204.00L531.35 205.00L531.35 208.00L529.65 208.00L527.65 207.00ZM529.65 205.00L530.65 202.00L532.35 202.00L532.35 205.00L531.35 208.00L529.65 208.00ZM530.65 202.00L532.65 199.00L534.35 199.00L534.35 202.00L532.35 205.00L530.65 205.00ZM532.65 199.00L534.35 199.00L536.35 201.00L536.35 204.00L534.65 204.00L532.65 202.00ZM534.65 201.00L536.35 201.00L538.35 204.00L538.35 207.00L536.65 207.00L534.65 204.00ZM536.65 204.00L538.35 204.00L540.35 206.00L540.35 209.00L538.65 209.00L536.65 207.00ZM538.65 206.00L543.35 206.00L543.35 209.00L538.65 209.00ZM541.65 206.00L543.65 204.00L545.35 204.00L545.35 207.00L543.35 209.00L541.65 209.00ZM543.65 204.00L545.65 201.00L547.35 201.00L547.35 204.00L545.35 207.00L543.65 207.00ZM545.65 201.00L547.35 201.00L549.35 202.00L549.35 205.00L547.65 205.00L545.65 204.00ZM547.65 202.00L549.35 202.00L551.35 203.00L551.35 206.00L549.65 206.00L547.65 205.00ZM549.65 203.00L551.65 202.00L553.35 202.00L553.35 205.00L551.35 206.00L549.65 206.00ZM551.65 202.00L553.65 199.00L555.35 199.00L555.35 202.00L553.35 205.00L551.65 205.00ZM553.65 199.00L556.65 198.00L558.35 198.00L558.35 201.00L555.35 202.00L553.65 202.00ZM556.65 198.00L560.35 198.00L560.35 201.00L556.65 201.00ZM558.65 198.00L560.35 198.00L562.35 199.00L562.35 202.00L560.65 202.00L558.65 201.00ZM560.65 199.00L563.65 198.00L565.35 198.00L565.35 201.00L562.35 202.00L560.65 202.00ZM563.65 198.00L565.35 198.00L567.35 199.00L567.35 202.00L565.65 202.00L563.65 201.00ZM565.65 199.00L567.35 199.00L570.35 201.00L570.35 204.00L568.65 204.00L565.65 202.00ZM568.65 201.00L570.35 201.00L572.35 202.00L572.35 205.00L570.65 205.00L568.65 204.00ZM570.65 202.00L574.35 202.00L574.35 205.00L570.65 205.00ZM572.65 202.00L575.65 200.00L577.35 200.00L577.35 203.00L574.35 205.00L572.65 205.00ZM575.65 200.00L579.35 200.00L579.35 203.00L575.65 203.00ZM577.65 200.00L579.35 200.00L582.35 202.00L582.35 205.00L580.65 205.00L577.65 203.00ZM580.65 202.00L582.35 202.00L585.35 203.00L585.35 206.00L583.65 206.00L580.65 205.00ZM583.65 203.00L587.65 202.00L589.35 202.00L589.35 205.00L585.35 206.00L583.65 206.00ZM587.65 202.00L590.65 201.00L592.35 201.00L592.35 204.00L589.35 205.00L587.65 205.00ZM590.65 201.00L595.35 201.00L595.35 204.00L590.65 204.00ZM593.65 201.00L595.35 201.00L597.35 202.00L597.35 205.00L595.65 205.00L593.65 204.00ZM595.65 202.00L597.35 202.00L601.35 203.00L601.35 206.00L599.65 206.00L595.65 205.00ZM599.65 203.00L601.35 203.00L603.35 205.00L603.35 208.00L601.65 208.00L599.65 206.00ZM601.65 205.00L607.35 205.00L607.35 208.00L601.65 208.00ZM605.65 205.00L607.35 205.00L610.35 206.00L610.35 209.00L608.65 209.00L605.65 208.00ZM608.65 206.00L614.35 206.00L614.35 209.00L608.65 209.00ZM612.65 206.00L617.35 206.00L617.35 209.00L612.65 209.00ZM615.65 206.00L616.65 205.00L618.35 205.00L618.35 208.00L617.35 209.00L615.65 209.00ZM616.65 205.00L618.35 205.00L619.35 207.00L619.35 210.00L617.65 210.00L616.65 208.00Z" fill="#ff0000" fill-rule="nonzero"/>
<path clip-path="url(#pg)" d="M65.65 206.00L71.35 206.00L71.35 209.00L65.65 209.00ZM69.65 206.00L72.65 205.00L74.35 205.00L74.35 208.00L71.35 209.00L69.65 209.00ZM72.65 205.00L75.65 202.00L77.35 202.00L77.35 205.00L74.35 208.00L72.65 208.00ZM75.65 202.00L77.65 200.00L79.35 200.00L79.35 203.00L77.35 205.00L75.65 205.00ZM77.65 200.00L79.65 197.00L81.35 197.00L81.35 200.00L79.35 203.00L77.65 203.00ZM79.65 197.00L81.65 196.00L83.35 196.00L83.35 199.00L81.35 200.00L79.65 200.00ZM81.65 196.00L83.65 195.00L85.35 195.00L85.35 198.00L83.35 199.00L81.65 199.00ZM83.65 195.00L85.35 195.00L86.35 196.00L86.35 199.00L84.65 199.00L83.65 198.00ZM84.65 196.00L86.65 195.00L88.35 195.00L88.35 198.00L86.35 199.00L84.65 199.00ZM86.65 195.00L88.65 194.00L90.35 194.00L90.35 197.00L88.35 198.00L86.65 198.00ZM88.65 194.00L93.35 194.00L93.35 197.00L88.65 197.00ZM91.65 194.00L93.35 194.00L95.35 195.00L95.35 198.00L93.65 198.00L91.65 197.00ZM93.65 195.00L97.35 195.00L97.35 198.00L93.65 198.00ZM95.65 195.00L99.35 195.00L99.35 198.00L95.65 198.00ZM97.65 195.00L99.65 194.00L101.35 194.00L101.35 197.00L99.35 198.00L97.65 198.00ZM99.65 194.00L101.65 193.00L103.35 193.00L103.35 196.00L101.35 197.00L99.65 197.00ZM101.65 193.00L104.65 192.00L106.35 192.00L106.35 195.00L103.35 196.00L101.65 196.00ZM104.65 192.00L109.35 192.00L109.35 195.00L104.65 195.00ZM107.65 192.00L109.65 191.00L111.35 191.00L111.35 194.00L109.35 195.00L107.65 195.00ZM109.65 191.00L114.35 191.00L114.35 194.00L109.65 194.00ZM112.65 191.00L116.35 191.00L116.35 194.00L112.65 194.00ZM114.65 191.00L116.65 188.00L118.35 188.00L118.35 191.00L116.35 194.00L114.65 194.00ZM116.65 188.00L118.65 187.00L120.35 187.00L120.35 190.00L118.35 191.00L116.65 191.00ZM118.65 187.00L120.35 187.00L123.35 188.00L123.35 191.00L121.65 191.00L118.65 190.00ZM121.65 188.00L125.35 188.00L125.35 191.00L121.65 191.00ZM123.65 188.00L126.65 186.00L128.35 186.00L128.35 189.00L125.35 191.00L123.65 191.00ZM126.65 186.00L128.35 186.00L131.35 187.00L131.35 190.00L129.65 190.00L126.65 189.00ZM129.65 187.00L131.65 185.00L133.35 185.00L133.35 188.00L131.35 190.00L129.65 190.00ZM131.65 185.00L133.35 185.00L136.35 187.00L136.35 190.00L134.65 190.00L131.65 188.00ZM134.65 187.00L137.65 183.00L139.35 183.00L139.35 186.00L136.35 190.00L134.65 190.00ZM137.65 183.00L140.65 180.00L142.35 180.00L142.35 183.00L139.35 186.00L137.65 186.00ZM140.65 180.00L142.35 180.00L146.35 181.00L146.35 184.00L144.65 184.00L140.65 183.00ZM144.65 181.00L147.65 179.00L149.35 179.00L149.35 182.00L146.35 184.00L144.65 184.00ZM147.65 179.00L150.65 174.00L152.35 174.00L152.35 177.00L149.35 182.00L147.65 182.00ZM150.65 174.00L154.65 171.00L156.35 171.00L156.35 174.00L152.35 177.00L150.65 177.00ZM154.65 171.00L157.65 167.00L159.35 167.00L159.35 170.00L156.35 174.00L154.65 174.00ZM157.65 167.00L160.65 163.00L162.35 163.00L162.35 166.00L159.35 170.00L157.65 170.00ZM160.65 163.00L164.65 160.00L166.35 160.00L166.35 163.00L162.35 166.00L160.65 166.00ZM164.65 160.00L166.65 158.00L168.35 158.00L168.35 161.00L166.35 163.00L164.65 163.00ZM166.65 158.00L168.35 158.00L171.35 160.00L171.35 163.00L169.65 163.00L166.65 161.00ZM169.65 160.00L171.35 160.00L174.35 163.00L174.35 166.00L172.65 166.00L169.65 163.00ZM172.65 163.00L177.35 163.00L177.35 166.00L172.65 166.00ZM175.65 163.00L179.65 159.00L181.35 159.00L181.35 162.00L177.35 166.00L175.65 166.00ZM179.65 159.00L181.65 156.00L183.35 156.00L183.35 159.00L181.35 162.00L179.65 162.00ZM181.65 156.00L183.35 156.00L186.35 158.00L186.35 161.00L184.65 161.00L181.65 159.00ZM184.65 158.00L187.65 155.00L189.35 155.00L189.35 158.00L186.35 161.00L184.65 161.00ZM187.65 155.00L189.65 154.00L191.35 154.00L191.35 157.00L189.35 158.00L187.65 158.00ZM189.65 154.00L193.35 154.00L193.35 157.00L189.65 157.00ZM191.65 154.00L193.35 154.00L195.35 155.00L195.35 158.00L193.65 158.00L191.65 157.00ZM193.65 155.00L196.65 151.00L198.35 151.00L198.35 154.00L195.35 158.00L193.65 158.00ZM196.65 151.00L198.65 148.00L200.35 148.00L200.35 151.00L198.35 154.00L196.65 154.00ZM198.65 148.00L201.65 145.00L203.35 145.00L203.35 148.00L200.35 151.00L198.65 151.00ZM201.65 145.00L203.35 145.00L205.35 146.00L205.35 149.00L203.65 149.00L201.65 148.00ZM203.65 146.00L206.65 142.00L208.35 142.00L208.35 145.00L205.35 149.00L203.65 149.00ZM206.65 142.00L208.65 139.00L210.35 139.00L210.35 142.00L208.35 145.00L206.65 145.00ZM208.65 139.00L211.65 137.00L213.35 137.00L213.35 140.00L210.35 142.00L208.65 142.00ZM211.65 137.00L213.35 137.00L215.35 138.00L215.35 141.00L213.65 141.00L211.65 140.00ZM213.65 138.00L215.35 138.00L217.35 140.00L217.35 143.00L215.65 143.00L213.65 141.00ZM215.65 140.00L217.35 140.00L219.35 141.00L219.35 144.00L217.65 144.00L215.65 143.00ZM217.65 141.00L219.35 141.00L222.35 142.00L222.35 145.00L220.65 145.00L217.65 144.00ZM220.65 142.00L222.65 139.00L224.35 139.00L224.35 142.00L222.35 145.00L220.65 145.00ZM222.65 139.00L225.65 137.00L227.35 137.00L227.35 140.00L224.35 142.00L222.65 142.00ZM225.65 137.00L228.65 136.00L230.35 136.00L230.35 139.00L227.35 140.00L225.65 140.00ZM228.65 136.00L230.35 136.00L233.35 139.00L233.35 142.00L231.65 142.00L228.65 139.00ZM231.65 139.00L233.35 139.00L236.35 141.00L236.35 144.00L234.65 144.00L231.65 142.00ZM234.65 141.00L236.35 141.00L239.35 142.00L239.35 145.00L237.65 145.00L234.65 144.00ZM237.65 142.00L239.35 142.00L242.35 144.00L242.35 147.00L240.65 147.00L237.65 145.00ZM240.65 144.00L245.35 144.00L245.35 147.00L240.65 147.00ZM243.65 144.00L245.35 144.00L248.35 146.00L248.35 149.00L246.65 149.00L243.65 147.00ZM246.65 146.00L248.35 146.00L250.35 147.00L250.35 150.00L248.65 150.00L246.65 149.00ZM248.65 147.00L251.65 146.00L253.35 146.00L253.35 149.00L250.35 150.00L248.65 150.00ZM251.65 146.00L253.65 142.00L255.35 142.00L255.35 145.00L253.35 149.00L251.65 149.00ZM253.65 142.00L256.65 139.00L258.35 139.00L258.35 142.00L255.35 145.00L253.65 145.00ZM256.65 139.00L258.65 137.00L260.35 137.00L260.35 140.00L258.35 142.00L256.65 142.00ZM258.65 137.00L260.35 137.00L262.35 138.00L262.35 141.00L260.65 141.00L258.65 140.00ZM260.65 138.00L262.65 134.00L264.35 134.00L264.35 137.00L262.35 141.00L260.65 141.00ZM262.65 134.00L264.65 132.00L266.35 132.00L266.35 135.00L264.35 137.00L262.65 137.00ZM264.65 132.00L266.65 131.00L268.35 131.00L268.35 134.00L266.35 135.00L264.65 135.00ZM266.65 131.00L268.35 131.00L269.35 133.00L269.35 136.00L267.65 136.00L266.65 134.00ZM267.65 133.00L269.35 133.00L271.35 137.00L271.35 140.00L269.65 140.00L267.65 136.00ZM269.65 137.00L271.35 137.00L273.35 138.00L273.35 141.00L271.65 141.00L269.65 140.00ZM271.65 138.00L273.65 135.00L275.35 135.00L275.35 138.00L273.35 141.00L271.65 141.00ZM273.65 135.00L275.65 132.00L277.35 132.00L277.35 135.00L275.35 138.00L273.65 138.00ZM275.65 132.00L277.65 131.00L279.35 131.00L279.35 134.00L277.35 135.00L275.65 135.00ZM277.65 131.00L279.35 131.00L281.35 133.00L281.35 136.00L279.65 136.00L277.65 134.00ZM279.65 133.00L281.35 133.00L284.35 134.00L284.35 137.00L282.65 137.00L279.65 136.00ZM282.65 134.00L283.65 132.00L285.35 132.00L285.35 135.00L284.35 137.00L282.65 137.00ZM283.65 132.00L285.35 132.00L287.35 134.00L287.35 137.00L285.65 137.00L283.65 135.00ZM285.65 134.00L287.35 134.00L289.35 138.00L289.35 141.00L287.65 141.00L285.65 137.00ZM287.65 138.00L289.65 135.00L291.35 135.00L291.35 138.00L289.35 141.00L287.65 141.00ZM289.65 135.00L291.65 134.00L293.35 134.00L293.35 137.00L291.35 138.00L289.65 138.00ZM291.65 134.00L292.65 132.00L294.35 132.00L294.35 135.00L293.35 137.00L291.65 137.00ZM292.65 132.00L294.65 126.00L296.35 126.00L296.35 129.00L294.35 135.00L292.65 135.00ZM294.65 121.00L296.35 121.00L296.35 129.00L294.65 129.00ZM294.65 121.00L296.35 121.00L297.35 123.00L297.35 126.00L295.65 126.00L294.65 124.00ZM295.65 123.00L297.35 123.00L298.35 128.00L298.35 131.00L296.65 131.00L295.65 126.00ZM296.65 128.00L298.35 128.00L300.35 131.00L300.35 134.00L298.65 134.00L296.65 131.00ZM298.65 131.00L299.65 129.00L301.35 129.00L301.35 132.00L300.35 134.00L298.65 134.00ZM299.65 129.00L300.65 126.00L302.35 126.00L302.35 129.00L301.35 132.00L299.65 132.00ZM300.65 126.00L302.35 126.00L304.35 128.00L304.35 131.00L302.65 131.00L300.65 129.00ZM302.65 128.00L304.35 128.00L305.35 132.00L305.35 135.00L303.65 135.00L302.65 131.00ZM303.65 132.00L305.35 132.00L306.35 139.00L306.35 142.00L304.65 142.00L303.65 135.00ZM304.65 139.00L306.35 139.00L307.35 148.00L307.35 151.00L305.65 151.00L304.65 142.00ZM305.65 148.00L307.35 148.00L308.35 155.00L308.35 158.00L306.65 158.00L305.65 151.00ZM306.65 155.00L308.35 155.00L309.35 164.00L309.35 167.00L307.65 167.00L306.65 158.00ZM307.65 164.00L309.35 164.00L311.35 168.00L311.35 171.00L309.65 171.00L307.65 167.00ZM309.65 168.00L311.65 163.00L313.35 163.00L313.35 166.00L311.35 171.00L309.65 171.00ZM311.65 163.00L314.65 156.00L316.35 156.00L316.35 159.00L313.35 166.00L311.65 166.00ZM314.65 156.00L316.35 156.00L318.35 161.00L318.35 164.00L316.65 164.00L314.65 159.00ZM316.65 161.00L318.35 161.00L320.35 171.00L320.35 174.00L318.65 174.00L316.65 164.00ZM318.65 171.00L320.35 171.00L321.35 182.00L321.35 185.00L319.65 185.00L318.65 174.00ZM319.65 182.00L321.35 182.00L324.35 190.00L324.35 193.00L322.65 193.00L319.65 185.00ZM322.65 190.00L324.35 190.00L325.35 194.00L325.35 197.00L323.65 197.00L322.65 193.00ZM323.65 194.00L325.65 190.00L327.35 190.00L327.35 193.00L325.35 197.00L323.65 197.00ZM325.65 190.00L326.65 189.00L328.35 189.00L328.35 192.00L327.35 193.00L325.65 193.00ZM326.65 189.00L328.35 189.00L330.35 192.00L330.35 195.00L328.65 195.00L326.65 192.00ZM328.65 192.00L330.65 187.00L332.35 187.00L332.35 190.00L330.35 195.00L328.65 195.00ZM330.65 187.00L333.35 187.00L333.35 190.00L330.65 190.00ZM331.65 187.00L333.35 187.00L335.35 195.00L335.35 198.00L333.65 198.00L331.65 190.00ZM333.65 195.00L335.35 195.00L336.35 203.00L336.35 206.00L334.65 206.00L333.65 198.00ZM334.65 203.00L336.35 203.00L338.35 205.00L338.35 208.00L336.65 208.00L334.65 206.00ZM336.65 205.00L337.65 199.00L339.35 199.00L339.35 202.00L338.35 208.00L336.65 208.00ZM337.65 199.00L342.35 199.00L342.35 202.00L337.65 202.00ZM340.65 199.00L341.65 195.00L343.35 195.00L343.35 198.00L342.35 202.00L340.65 202.00ZM341.65 195.00L343.65 193.00L345.35 193.00L345.35 196.00L343.35 198.00L341.65 198.00ZM343.65 193.00L345.35 193.00L346.35 195.00L346.35 198.00L344.65 198.00L343.65 196.00ZM344.65 195.00L346.35 195.00L348.35 197.00L348.35 200.00L346.65 200.00L344.65 198.00ZM346.65 197.00L348.35 197.00L349.35 198.00L349.35 201.00L347.65 201.00L346.65 200.00ZM347.65 198.00L349.65 195.00L351.35 195.00L351.35 198.00L349.35 201.00L347.65 201.00ZM349.65 195.00L350.65 190.00L352.35 190.00L352.35 193.00L351.35 198.00L349.65 198.00ZM350.65 190.00L352.65 187.00L354.35 187.00L354.35 190.00L352.35 193.00L350.65 193.00ZM352.65 187.00L354.35 187.00L355.35 190.00L355.35 193.00L353.65 193.00L352.65 190.00ZM353.65 190.00L355.65 189.00L357.35 189.00L357.35 192.00L355.35 193.00L353.65 193.00ZM355.65 189.00L357.65 185.00L359.35 185.00L359.35 188.00L357.35 192.00L355.65 192.00ZM357.65 185.00L359.65 181.00L361.35 181.00L361.35 184.00L359.35 188.00L357.65 188.00ZM359.65 181.00L361.65 179.00L363.35 179.00L363.35 182.00L361.35 184.00L359.65 184.00ZM361.65 179.00L363.65 178.00L365.35 178.00L365.35 181.00L363.35 182.00L361.65 182.00ZM363.65 178.00L365.35 178.00L367.35 179.00L367.35 182.00L365.65 182.00L363.65 181.00ZM365.65 179.00L367.65 177.00L369.35 177.00L369.35 180.00L367.35 182.00L365.65 182.00ZM367.65 177.00L369.65 175.00L371.35 175.00L371.35 178.00L369.35 180.00L367.65 180.00ZM369.65 175.00L372.65 172.00L374.35 172.00L374.35 175.00L371.35 178.00L369.65 178.00ZM372.65 172.00L374.35 172.00L376.35 174.00L376.35 177.00L374.65 177.00L372.65 175.00ZM374.65 174.00L376.35 174.00L378.35 177.00L378.35 180.00L376.65 180.00L374.65 177.00ZM376.65 177.00L378.65 176.00L380.35 176.00L380.35 179.00L378.35 180.00L376.65 180.00ZM378.65 176.00L382.35 176.00L382.35 179.00L378.65 179.00ZM380.65 176.00L382.35 176.00L384.35 179.00L384.35 182.00L382.65 182.00L380.65 179.00ZM382.65 179.00L384.35 179.00L386.35 181.00L386.35 184.00L384.65 184.00L382.65 182.00ZM384.65 181.00L386.65 179.00L388.35 179.00L388.35 182.00L386.35 184.00L384.65 184.00ZM386.65 179.00L390.35 179.00L390.35 182.00L386.65 182.00ZM388.65 179.00L390.35 179.00L392.35 180.00L392.35 183.00L390.65 183.00L388.65 182.00ZM390.65 180.00L394.35 180.00L394.35 183.00L390.65 183.00ZM392.65 180.00L394.65 178.00L396.35 178.00L396.35 181.00L394.35 183.00L392.65 183.00ZM394.65 178.00L397.65 177.00L399.35 177.00L399.35 180.00L396.35 181.00L394.65 181.00ZM397.65 177.00L402.35 177.00L402.35 180.00L397.65 180.00ZM400.65 177.00L402.35 177.00L405.35 178.00L405.35 181.00L403.65 181.00L400.65 180.00ZM403.65 178.00L405.65 177.00L407.35 177.00L407.35 180.00L405.35 181.00L403.65 181.00ZM405.65 177.00L409.65 176.00L411.35 176.00L411.35 179.00L407.35 180.00L405.65 180.00ZM409.65 176.00L413.65 173.00L415.35 173.00L415.35 176.00L411.35 179.00L409.65 179.00ZM413.65 173.00L415.65 172.00L417.35 172.00L417.35 175.00L415.35 176.00L413.65 176.00ZM415.65 172.00L417.35 172.00L420.35 173.00L420.35 176.00L418.65 176.00L415.65 175.00ZM418.65 173.00L420.35 173.00L423.35 176.00L423.35 179.00L421.65 179.00L418.65 176.00ZM421.65 176.00L423.35 176.00L425.35 181.00L425.35 184.00L423.65 184.00L421.65 179.00ZM423.65 181.00L425.65 179.00L427.35 179.00L427.35 182.00L425.35 184.00L423.65 184.00ZM425.65 179.00L428.65 175.00L430.35 175.00L430.35 178.00L427.35 182.00L425.65 182.00ZM428.65 175.00L430.65 174.00L432.35 174.00L432.35 177.00L430.35 178.00L428.65 178.00ZM430.65 174.00L432.35 174.00L434.35 176.00L434.35 179.00L432.65 179.00L430.65 177.00ZM432.65 176.00L434.65 174.00L436.35 174.00L436.35 177.00L434.35 179.00L432.65 179.00ZM434.65 174.00L439.35 174.00L439.35 177.00L434.65 177.00ZM437.65 174.00L439.35 174.00L441.35 175.00L441.35 178.00L439.65 178.00L437.65 177.00ZM439.65 175.00L442.65 173.00L444.35 173.00L444.35 176.00L441.35 178.00L439.65 178.00ZM442.65 173.00L445.65 171.00L447.35 171.00L447.35 174.00L444.35 176.00L442.65 176.00ZM445.65 171.00L449.35 171.00L449.35 174.00L445.65 174.00ZM447.65 171.00L450.65 170.00L452.35 170.00L452.35 173.00L449.35 174.00L447.65 174.00ZM450.65 170.00L452.35 170.00L455.35 171.00L455.35 174.00L453.65 174.00L450.65 173.00ZM453.65 171.00L455.35 171.00L458.35 173.00L458.35 176.00L456.65 176.00L453.65 174.00ZM456.65 173.00L458.35 173.00L460.35 174.00L460.35 177.00L458.65 177.00L456.65 176.00ZM458.65 174.00L481.35 174.00L481.35 177.00L458.65 177.00Z" fill="#00ff00" fill-rule="nonzero"/>
</g>
<rect x="435.5" y="27.5" width="183" height="38" fill="#050307" stroke="#474747" stroke-width="1" shape-rendering="crispEdges"/>
<text class="d b" transform="translate(20.5,17.05) scale(1,0.92)" font-size="12" fill="#d6d6d6" textLength="42" lengthAdjust="spacingAndGlyphs" xml:space="preserve">USD/oz</text>
<text class="d b" transform="translate(20,31.75) scale(1,1.0)" font-size="12" fill="#d6d6d6" textLength="42" lengthAdjust="spacingAndGlyphs" xml:space="preserve">4450.0</text>
<text class="d b" transform="translate(20,80.75) scale(1,1.0)" font-size="12" fill="#d6d6d6" textLength="42" lengthAdjust="spacingAndGlyphs" xml:space="preserve">4400.0</text>
<text class="d b" transform="translate(20,130.75) scale(1,1.0)" font-size="12" fill="#d6d6d6" textLength="42" lengthAdjust="spacingAndGlyphs" xml:space="preserve">4350.0</text>
<text class="d b" transform="translate(20,179.75) scale(1,1.0)" font-size="12" fill="#d6d6d6" textLength="42" lengthAdjust="spacingAndGlyphs" xml:space="preserve">4300.0</text>
<text class="d b" transform="translate(20,228.75) scale(1,1.0)" font-size="12" fill="#d6d6d6" textLength="42" lengthAdjust="spacingAndGlyphs" xml:space="preserve">4250.0</text>
<text class="d b" transform="translate(20,277.75) scale(1,1.0)" font-size="12" fill="#d6d6d6" textLength="42" lengthAdjust="spacingAndGlyphs" xml:space="preserve">4200.0</text>
<text class="d b" transform="translate(20,327.75) scale(1,1.0)" font-size="12" fill="#d6d6d6" textLength="42" lengthAdjust="spacingAndGlyphs" xml:space="preserve">4150.0</text>
<text class="d b" transform="translate(20,376.75) scale(1,1.0)" font-size="12" fill="#d6d6d6" textLength="42" lengthAdjust="spacingAndGlyphs" xml:space="preserve">4100.0</text>
<text class="s" x="189.8" y="21.9" font-size="19.7" textLength="20.2" lengthAdjust="spacingAndGlyphs">24</text>
<text class="s" x="213.6" y="21.9" font-size="19.7" textLength="186.4" lengthAdjust="spacingAndGlyphs">Hour Spot Gold (Bid)</text>
<text class="s" x="67.5" y="54.8" font-size="19.2" textLength="135" lengthAdjust="spacingAndGlyphs">www.kitco.com</text>
<text class="d b" transform="translate(447.5,24.05) scale(1,0.92)" font-size="12" fill="#d6d6d6" textLength="161" lengthAdjust="spacingAndGlyphs" xml:space="preserve">December 12, 2025 23:59</text>
<rect x="442" y="32" width="6" height="2" fill="#00d4ff"/>
<text class="d b" transform="translate(452,38.05) scale(1,0.92)" font-size="12" fill="#00d4ff" textLength="161" lengthAdjust="spacingAndGlyphs" xml:space="preserve">Dec 10 NY close 4227.50</text>
<rect x="442" y="45" width="6" height="2" fill="#ff0000"/>
<text class="d b" transform="translate(452,51.05) scale(1,0.92)" font-size="12" fill="#ff0000" textLength="161" lengthAdjust="spacingAndGlyphs" xml:space="preserve">Dec 11 NY close 4279.10</text>
<rect x="442" y="58" width="6" height="2" fill="#00ff00"/>
<text class="d b" transform="translate(452,64.05) scale(1,0.92)" font-size="12" fill="#00ff00" textLength="133" lengthAdjust="spacingAndGlyphs" xml:space="preserve">Dec 12 Last 4298.70</text>
<text class="d" transform="translate(88.5,343.02) scale(1,1.1)" font-size="10" fill="#ffcc00" stroke="#ffcc00" stroke-width="0.15" textLength="54" lengthAdjust="spacingAndGlyphs" xml:space="preserve">Hong Kong</text>
<text class="d" transform="translate(547.5,343.02) scale(1,1.1)" font-size="10" fill="#ffcc00" stroke="#ffcc00" stroke-width="0.15" textLength="54" lengthAdjust="spacingAndGlyphs" xml:space="preserve">Hong Kong</text>
<text class="d" transform="translate(213.5,356.02) scale(1,1.1)" font-size="10" fill="#ffcc00" stroke="#ffcc00" stroke-width="0.15" textLength="36" lengthAdjust="spacingAndGlyphs" xml:space="preserve">London</text>
<text class="d" transform="translate(531,356.02) scale(1,1.1)" font-size="10" fill="#ffcc00" stroke="#ffcc00" stroke-width="0.15" textLength="36" lengthAdjust="spacingAndGlyphs" xml:space="preserve">Sydney</text>
<text class="d" transform="translate(105.5,369.02) scale(1,1.1)" font-size="10" fill="#ffcc00" stroke="#ffcc00" stroke-width="0.15" textLength="90" lengthAdjust="spacingAndGlyphs" xml:space="preserve">New York Globex</text>
<text class="d" transform="translate(275.5,369.02) scale(1,1.1)" font-size="10" fill="#ffcc00" stroke="#ffcc00" stroke-width="0.15" textLength="84" lengthAdjust="spacingAndGlyphs" xml:space="preserve">New York NYMEX</text>
<text class="d" transform="translate(389.5,369.02) scale(1,1.1)" font-size="10" fill="#ffcc00" stroke="#ffcc00" stroke-width="0.15" textLength="54" lengthAdjust="spacingAndGlyphs" xml:space="preserve">NY Globex</text>
<text class="d" transform="translate(504,369.02) scale(1,1.1)" font-size="10" fill="#ffcc00" stroke="#ffcc00" stroke-width="0.15" textLength="90" lengthAdjust="spacingAndGlyphs" xml:space="preserve">New York Globex</text>
<text class="d b" transform="translate(48,387.75) scale(1,1.0)" font-size="12" fill="#d6d6d6" textLength="35" lengthAdjust="spacingAndGlyphs" xml:space="preserve">00:00</text>
<text class="d b" transform="translate(48,401.05) scale(1,0.92)" font-size="12" fill="#555555" textLength="35" lengthAdjust="spacingAndGlyphs" xml:space="preserve">05:00</text>
<text class="d b" transform="translate(140,387.75) scale(1,1.0)" font-size="12" fill="#d6d6d6" textLength="35" lengthAdjust="spacingAndGlyphs" xml:space="preserve">04:00</text>
<text class="d b" transform="translate(140,401.05) scale(1,0.92)" font-size="12" fill="#555555" textLength="35" lengthAdjust="spacingAndGlyphs" xml:space="preserve">09:00</text>
<text class="d b" transform="translate(233,387.75) scale(1,1.0)" font-size="12" fill="#d6d6d6" textLength="35" lengthAdjust="spacingAndGlyphs" xml:space="preserve">08:00</text>
<text class="d b" transform="translate(233,401.05) scale(1,0.92)" font-size="12" fill="#555555" textLength="35" lengthAdjust="spacingAndGlyphs" xml:space="preserve">13:00</text>
<text class="d b" transform="translate(325.5,387.75) scale(1,1.0)" font-size="12" fill="#d6d6d6" textLength="35" lengthAdjust="spacingAndGlyphs" xml:space="preserve">12:00</text>
<text class="d b" transform="translate(325.5,401.05) scale(1,0.92)" font-size="12" fill="#555555" textLength="35" lengthAdjust="spacingAndGlyphs" xml:space="preserve">17:00</text>
<text class="d b" transform="translate(417.5,387.75) scale(1,1.0)" font-size="12" fill="#d6d6d6" textLength="35" lengthAdjust="spacingAndGlyphs" xml:space="preserve">16:00</text>
<text class="d b" transform="translate(417.5,401.05) scale(1,0.92)" font-size="12" fill="#555555" textLength="35" lengthAdjust="spacingAndGlyphs" xml:space="preserve">21:00</text>
<text class="d b" transform="translate(509,387.75) scale(1,1.0)" font-size="12" fill="#d6d6d6" textLength="35" lengthAdjust="spacingAndGlyphs" xml:space="preserve">20:00</text>
<text class="d b" transform="translate(509,401.05) scale(1,0.92)" font-size="12" fill="#555555" textLength="35" lengthAdjust="spacingAndGlyphs" xml:space="preserve">01:00</text>
<text class="d b" transform="translate(591,387.75) scale(1,1.0)" font-size="12" fill="#d6d6d6" textLength="35" lengthAdjust="spacingAndGlyphs" xml:space="preserve">23:59</text>
<text class="d b" transform="translate(591,401.05) scale(1,0.92)" font-size="12" fill="#555555" textLength="35" lengthAdjust="spacingAndGlyphs" xml:space="preserve">04:59</text>
<text class="d" transform="translate(3.5,389.02) scale(1,1.1)" font-size="10" fill="#d6d6d6" textLength="42" lengthAdjust="spacingAndGlyphs" xml:space="preserve">NY Time</text>
<text class="d" transform="translate(11.5,401.02) scale(1,1.1)" font-size="10" fill="#d6d6d6" textLength="18" lengthAdjust="spacingAndGlyphs" xml:space="preserve">GMT</text>
</svg></body></html>
